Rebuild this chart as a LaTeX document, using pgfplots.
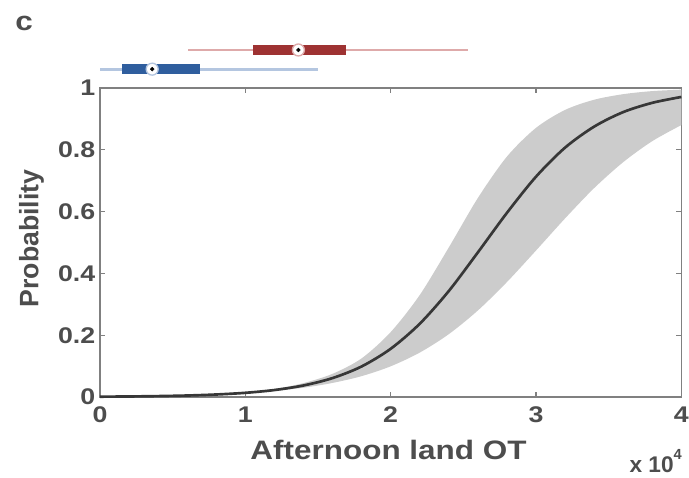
\documentclass[border=0pt]{standalone}
\usepackage{pgfplots}
\usepackage{pgfplotstable}
\pgfplotsset{compat=1.18}
\usepgfplotslibrary{fillbetween}
\usepackage{fontspec}
\setmainfont{Liberation Sans}[FakeStretch=1.18]
\newfontfamily\plainsans{Liberation Sans}
\definecolor{txt}{RGB}{77,77,77}
\definecolor{axisgray}{RGB}{128,128,128}
\definecolor{bandgray}{RGB}{204,204,204}
\definecolor{curvecol}{RGB}{55,55,55}
\definecolor{redbox}{RGB}{158,50,50}
\definecolor{redwhisk}{RGB}{222,170,170}
\definecolor{bluebox}{RGB}{47,94,158}
\definecolor{bluewhisk}{RGB}{180,198,224}

\pgfplotstableread{
x    lo      mid     up
0.0  0.0010  0.0010  0.0010
0.2  0.0017  0.0017  0.0017
0.4  0.0029  0.0029  0.0029
0.6  0.0048  0.0048  0.0048
0.8  0.0079  0.0081  0.0083
1.0  0.0125  0.0135  0.0150
1.2  0.0200  0.0225  0.0260
1.4  0.0300  0.0373  0.0450
1.6  0.0455  0.0612  0.0750
1.8  0.0675  0.0988  0.1250
2.0  0.0993  0.1560  0.2100
2.2  0.1437  0.2370  0.3300
2.4  0.2034  0.3430  0.4840
2.6  0.2800  0.4680  0.6440
2.8  0.3720  0.5960  0.7780
3.0  0.4740  0.7130  0.8710
3.2  0.5780  0.8070  0.9290
3.4  0.6760  0.8750  0.9620
3.6  0.7600  0.9220  0.9800
3.8  0.8280  0.9520  0.9900
4.0  0.8800  0.9710  0.9946
}\probdata

\begin{document}
\begin{tikzpicture}
\begin{axis}[
  at={(0pt,0pt)}, anchor=south west,
  scale only axis, width=436pt, height=231.75pt,
  xmin=0, xmax=4, ymin=0, ymax=1,
  xtick={0,1,2,3,4},
  ytick={0,0.2,0.4,0.6,0.8,1},
  clip=false,
  axis line style={draw=axisgray, line width=0.9pt},
  tick style={draw=axisgray, line width=0.8pt},
  major tick length=4pt,
  /pgf/number format/assume math mode=true,
  ticklabel style={font=\fontsize{17}{20}\selectfont\bfseries, text=txt},
  xticklabel style={yshift=-4pt},
]
\addplot[name path=up, draw=none, smooth] table[x=x, y=up] {\probdata};
\addplot[name path=lo, draw=none, smooth] table[x=x, y=lo] {\probdata};
\addplot[fill=bandgray, draw=none] fill between[of=up and lo];
\addplot[curvecol, line width=2pt, smooth] table[x=x, y=mid] {\probdata};

% red boxplot (upper)
\addplot[redwhisk, line width=2.2pt] coordinates {(0.607,1.123) (2.531,1.123)};
\addplot[redbox, line width=7pt] coordinates {(1.055,1.123) (1.690,1.123)};
\addplot[only marks, mark=*, mark size=4.5pt, mark options={fill=white, draw=redwhisk, line width=1pt}] coordinates {(1.365,1.123)};
\addplot[only marks, mark=*, mark size=1.4pt, mark options={fill=black, draw=black}] coordinates {(1.365,1.123)};
% blue boxplot (lower)
\addplot[bluewhisk, line width=2.2pt] coordinates {(0,1.061) (1.497,1.061)};
\addplot[bluebox, line width=7pt] coordinates {(0.152,1.061) (0.690,1.061)};
\addplot[only marks, mark=*, mark size=4.5pt, mark options={fill=white, draw=bluewhisk, line width=1pt}] coordinates {(0.359,1.061)};
\addplot[only marks, mark=*, mark size=1.4pt, mark options={fill=black, draw=black}] coordinates {(0.359,1.061)};
\end{axis}
\node[anchor=base west, text=txt, font=\fontsize{20}{24}\selectfont\bfseries, inner sep=0pt] at (-63.75pt,274.7pt) {c};
\node[rotate=90, anchor=base, text=txt, font=\plainsans\fontsize{20}{24}\selectfont\bfseries, inner sep=0pt] at (-46.3pt,118.9pt) {Probability};
\node[anchor=base, text=txt, font=\fontsize{20}{24}\selectfont\bfseries, inner sep=0pt] at (216.4pt,-47.25pt) {Afternoon land OT};
\node[anchor=base west, text=txt, font=\plainsans\fontsize{17}{20}\selectfont\bfseries, inner sep=0pt] at (397pt,-57pt) {x 10\raisebox{0.6em}{\fontsize{11}{12}\selectfont 4}};
\pgfresetboundingbox
\path[use as bounding box] (-75pt,-60.75pt) rectangle (441.75pt,297.75pt);
\end{tikzpicture}
\end{document}
